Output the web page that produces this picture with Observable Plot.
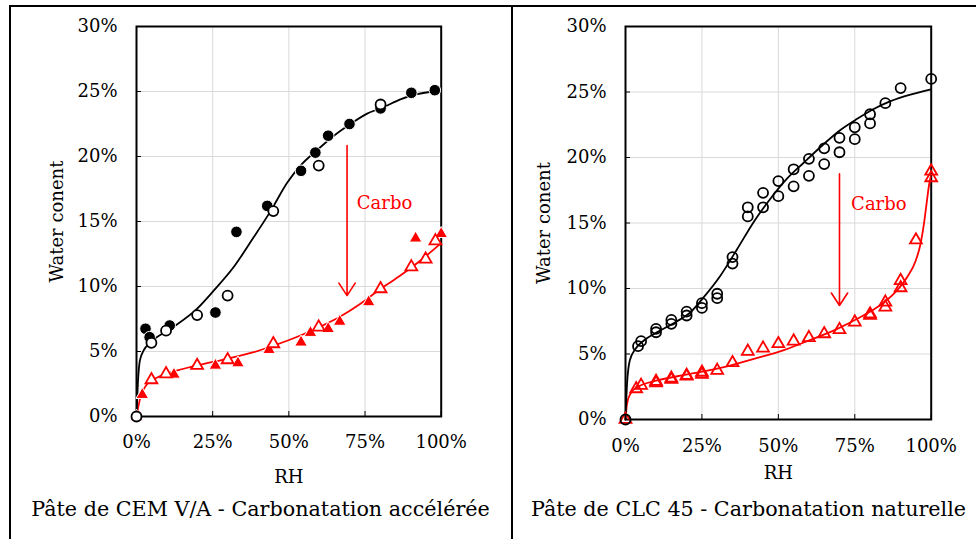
<!DOCTYPE html>
<html><head><meta charset="utf-8">
<script src="https://cdn.jsdelivr.net/npm/d3@7"></script>
<script src="https://cdn.jsdelivr.net/npm/@observablehq/plot@0.6"></script>
<style>
body{margin:0;background:#fff;}
#wrap{position:relative;width:976px;height:539px;overflow:hidden;background:#fff;font-family:"DejaVu Serif",serif;}
.panel{position:absolute;top:0;}
.title{position:absolute;top:497px;font-size:20.7px;color:#000;white-space:nowrap;text-align:center;}
.vline{position:absolute;top:6px;width:1.5px;height:533px;background:#000;}
.hline{position:absolute;top:5px;left:9px;width:967px;height:2px;background:#000;}
</style></head>
<body>
<div id="wrap">
  <div class="hline"></div>
  <div class="vline" style="left:9px"></div>
  <div class="vline" style="left:511px"></div>
  <div id="p1" class="panel" style="left:0px"></div>
  <div id="p2" class="panel" style="left:490px"></div>
  <div class="title" style="left:10px;width:501px">Pâte de CEM V/A - Carbonatation accélérée</div>
  <div class="title" style="left:521px;width:455px">Pâte de CLC 45 - Carbonatation naturelle</div>
</div>
<script>
// ---- axis ticks ----
const xTicks = [0, 25, 50, 75, 100];
const yTicks = [0, 5, 10, 15, 20, 25, 30];
const xLabel = "RH";
const yLabel = "Water conent";
const arrowText = "Carbo";

// ---- Left panel: CEM V/A, accelerated carbonation ----
const cemSoundFilledRH = [2.95, 4.3, 10.9, 25.9, 32.8, 42.9, 54.0, 58.7, 62.9, 69.9, 80.1, 90.2, 97.9];
const cemSoundFilledWC = [6.75, 6.1, 7.0, 8.0, 14.2, 16.2, 18.9, 20.3, 21.6, 22.5, 23.7, 24.9, 25.1];
const cemSoundOpenRH = [0, 4.9, 9.7, 19.9, 29.9, 44.9, 59.8, 80.1];
const cemSoundOpenWC = [0, 5.67, 6.6, 7.8, 9.3, 15.8, 19.3, 24.0];
const cemCarbFilledRH = [0, 1.9, 12.3, 25.9, 33.3, 43.5, 54.0, 57.1, 62.9, 66.7, 76.2, 91.6, 100];
const cemCarbFilledWC = [0, 1.67, 3.23, 3.92, 4.1, 5.13, 5.7, 6.44, 6.74, 7.3, 8.8, 13.7, 14.05];
const cemCarbOpenRH = [4.9, 9.7, 19.9, 29.9, 44.9, 59.8, 80.1, 90.2, 94.9, 98.1];
const cemCarbOpenWC = [2.82, 3.28, 3.92, 4.36, 5.59, 6.87, 9.82, 11.5, 12.1, 13.5];
const cemSoundFitRH = [0, 0.44, 1.1, 2.4, 4.6, 11.2, 19.9, 25.4, 31.9, 38.5, 44.0, 49.5, 53.8, 59.3, 64.8, 70.2, 75.7, 81.2, 86.6, 92.1, 98.1];
const cemSoundFitWC = [0, 2.5, 4.3, 5.1, 5.7, 6.74, 8.3, 9.7, 11.5, 13.8, 15.8, 18.0, 19.3, 20.5, 21.6, 22.5, 23.3, 23.8, 24.4, 24.8, 25.0];
const cemCarbFitRH = [0, 1.3, 3.5, 6.8, 12.3, 19.9, 29.8, 38.5, 45.1, 53.8, 60.4, 66.9, 73.5, 80.1, 86.6, 93.2, 99.8];
const cemCarbFitWC = [0, 1.49, 2.5, 3.0, 3.46, 3.92, 4.44, 4.95, 5.46, 6.23, 6.92, 7.69, 8.67, 9.82, 10.85, 12.0, 13.3];
const cemArrow = [69.1, 20.85, 9.3];   // RH, from WC, to WC
const cemLabelPos = [72.3, 16.4];

// ---- Right panel: CLC 45, natural carbonation ----
const clcSoundRH = [0, 4.1, 5.1, 10, 10, 15, 15, 20, 20, 25, 25, 30, 30, 35, 35, 40, 40, 45, 45, 50, 50, 55, 55, 60, 60, 65, 65, 70, 70, 75, 75, 80, 80, 85, 90, 100];
const clcSoundWC = [0, 5.6, 5.98, 6.66, 6.92, 7.3, 7.6, 7.94, 8.24, 8.52, 8.88, 9.26, 9.6, 11.9, 12.4, 15.5, 16.2, 16.2, 17.3, 17.05, 18.2, 17.8, 19.1, 18.6, 19.9, 19.5, 20.7, 20.4, 21.5, 21.4, 22.3, 22.6, 23.3, 24.15, 25.3, 26.0];
const clcCarbRH = [0, 3.5, 5.1, 10, 10, 15, 15, 20, 20, 25, 25, 30, 35, 40, 45, 50, 55, 60, 65, 70, 75, 80, 80, 85, 85, 90, 90, 95, 100, 100];
const clcCarbWC = [0, 2.34, 2.6, 2.9, 2.8, 3.15, 3.05, 3.36, 3.3, 3.6, 3.45, 3.74, 4.33, 5.2, 5.44, 5.78, 5.98, 6.24, 6.54, 6.85, 7.43, 7.94, 8.05, 8.57, 8.95, 10.05, 10.6, 13.7, 18.45, 18.95];
const clcSoundFitRH = [0, 0.5, 1.4, 3.3, 6.0, 10.4, 16.9, 21.3, 25.6, 31.1, 36.5, 42.0, 47.4, 52.9, 58.3, 63.8, 70.3, 75.8, 81.2, 86.7, 93.2, 100];
const clcSoundFitWC = [0, 2.7, 4.5, 5.4, 6.03, 6.67, 7.5, 8.2, 9.34, 11.0, 13.0, 15.1, 16.85, 18.4, 19.6, 20.8, 22.1, 22.95, 23.7, 24.3, 24.8, 25.2];
const clcCarbFitRH = [0, 0.5, 1.6, 3.8, 10.4, 20.2, 32.2, 43.1, 51.8, 60.5, 69.3, 75.8, 82.3, 87.8, 92.1, 94.9, 96.5, 97.6, 98.5, 99.3, 99.8];
const clcCarbFitWC = [0, 1.2, 1.96, 2.47, 2.98, 3.44, 4.0, 4.7, 5.3, 6.08, 6.92, 7.69, 8.57, 9.6, 10.86, 12.1, 13.4, 14.9, 16.5, 17.9, 18.5];
const clcArrow = [70.0, 18.75, 8.7];
const clcLabelPos = [73.8, 16.4];

const zip = (xs, ys) => xs.map((x, i) => ({x, y: ys[i]}));
const pct = d => d + "%";
const RED = "#ff0000";

function panel(o) {
  const marks = [
    Plot.gridX(xTicks.slice(1, -1), {stroke: "#d9d9d9", strokeOpacity: 1, strokeWidth: 1}),
    Plot.gridY(yTicks.slice(1, -1), {stroke: "#d9d9d9", strokeOpacity: 1, strokeWidth: 1}),
    Plot.axisX({ticks: xTicks, tickFormat: pct, tickSize: -5, tickPadding: o.xPad + 5, label: xLabel,
      labelAnchor: "center", labelArrow: "none", labelOffset: o.xLabOff}),
    Plot.axisY({ticks: yTicks, tickFormat: pct, tickSize: -5, tickPadding: 24, label: yLabel,
      labelAnchor: "center", labelArrow: "none", labelOffset: o.yLabOff}),
    Plot.frame({stroke: "#000", strokeWidth: 2}),
    ...o.marks,
    Plot.arrow([o.arrow], {x1: d => d[0], x2: d => d[0], y1: d => d[1], y2: d => d[2],
      stroke: RED, strokeWidth: 1.6, headAngle: 66, headLength: 14}),
    Plot.text([o.labelPos], {x: d => d[0], y: d => d[1], text: () => arrowText, fill: RED,
      textAnchor: "start", fontSize: 18})
  ];
  return Plot.plot({
    width: o.width, height: 490,
    marginLeft: o.ml, marginRight: o.width - o.xr, marginTop: 26, marginBottom: 490 - o.yb,
    style: {fontFamily: "DejaVu Serif, serif", fontSize: "18px", color: "#000", background: "transparent", overflow: "visible"},
    x: {domain: [0, 100]},
    y: {domain: [0, 30]},
    marks
  });
}

const lineOpts = {x: "x", y: "y", curve: "monotone-x", strokeWidth: 1.8};

document.getElementById("p1").append(panel({
  width: 490, ml: 136, xr: 440.7, yb: 416, xPad: 19, xLabOff: 66, yLabOff: 86,
  arrow: cemArrow, labelPos: cemLabelPos,
  marks: [
    Plot.line(zip(cemCarbFitRH, cemCarbFitWC), {...lineOpts, stroke: RED}),
    Plot.line(zip(cemSoundFitRH, cemSoundFitWC), {...lineOpts, stroke: "#000"}),
    Plot.dot(zip(cemCarbFilledRH, cemCarbFilledWC), {x: "x", y: "y", symbol: "triangle", r: 4.7, fill: RED, stroke: "#fff", strokeWidth: 1}),
    Plot.dot(zip(cemCarbOpenRH, cemCarbOpenWC), {x: "x", y: "y", symbol: "triangle", r: 4.4, fill: "#fff", stroke: RED, strokeWidth: 1.8}),
    Plot.dot(zip(cemSoundFilledRH, cemSoundFilledWC), {x: "x", y: "y", r: 5.8, fill: "#000", stroke: "#fff", strokeWidth: 1}),
    Plot.dot(zip(cemSoundOpenRH, cemSoundOpenWC), {x: "x", y: "y", r: 5, fill: "#fff", stroke: "#000", strokeWidth: 1.8})
  ]
}));

document.getElementById("p2").append(panel({
  width: 486, ml: 135, xr: 440.7, yb: 419, xPad: 20, xLabOff: 59, yLabOff: 88,
  arrow: clcArrow, labelPos: clcLabelPos,
  marks: [
    Plot.line(zip(clcCarbFitRH, clcCarbFitWC), {...lineOpts, stroke: RED}),
    Plot.line(zip(clcSoundFitRH, clcSoundFitWC), {...lineOpts, stroke: "#000"}),
    Plot.dot(zip(clcCarbRH, clcCarbWC), {x: "x", y: "y", symbol: "triangle", r: 4.4, fill: "none", stroke: RED, strokeWidth: 1.8}),
    Plot.dot(zip(clcSoundRH, clcSoundWC), {x: "x", y: "y", r: 5, fill: "none", stroke: "#000", strokeWidth: 1.8})
  ]
}));
</script>
</body></html>
